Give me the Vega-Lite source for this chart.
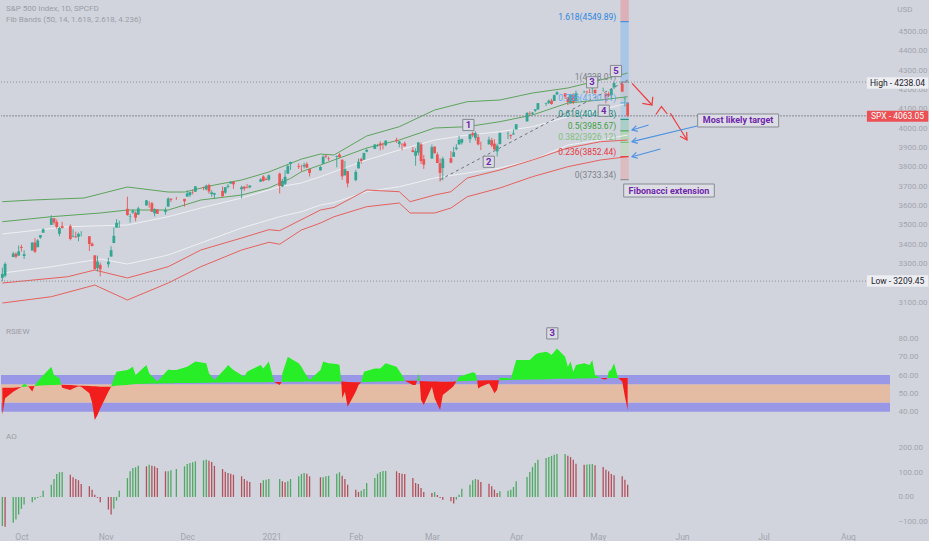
{
"$schema":"https://vega.github.io/schema/vega-lite/v6.json",
"background":"#d1d4dc",
"padding":0,
"spacing":0,
"config":{"view":{"stroke":null},"font":"Roboto","axis":{"labelColor":"#a2a5ae","labelFont":"Roboto","labelFontSize":8,"ticks":false,"domain":false,"grid":false,"labelPadding":8,"labelOverlap":false}},
"datasets":{
"px":[
{"d":"2020-09-24","o":3226.14,"h":3278.7,"l":3209.45,"c":3246.59,"a":-117},
{"d":"2020-09-25","o":3236.66,"h":3306.88,"l":3228.44,"c":3298.46,"a":-120},
{"d":"2020-09-28","o":3333.9,"h":3360.74,"l":3332.91,"c":3351.6,"a":-104},
{"d":"2020-09-29","o":3350.92,"h":3357.92,"l":3327.54,"c":3335.47,"a":-91},
{"d":"2020-09-30","o":3341.21,"h":3393.56,"l":3340.47,"c":3363.0,"a":-71},
{"d":"2020-10-01","o":3385.87,"h":3397.18,"l":3361.39,"c":3380.8,"a":-48},
{"d":"2020-10-02","o":3338.94,"h":3369.1,"l":3323.69,"c":3348.42,"a":-31},
{"d":"2020-10-05","o":3367.27,"h":3409.57,"l":3367.27,"c":3408.6,"a":-21},
{"d":"2020-10-06","o":3408.74,"h":3431.56,"l":3354.54,"c":3360.97,"a":-11},
{"d":"2020-10-07","o":3384.56,"h":3426.26,"l":3384.56,"c":3419.44,"a":-4},
{"d":"2020-10-08","o":3434.28,"h":3447.28,"l":3428.15,"c":3446.83,"a":3},
{"d":"2020-10-09","o":3459.67,"h":3482.34,"l":3458.07,"c":3477.14,"a":25},
{"d":"2020-10-12","o":3500.02,"h":3549.85,"l":3499.61,"c":3534.22,"a":49},
{"d":"2020-10-13","o":3534.01,"h":3534.01,"l":3500.86,"c":3511.93,"a":72},
{"d":"2020-10-14","o":3515.47,"h":3527.94,"l":3480.55,"c":3488.67,"a":92},
{"d":"2020-10-15","o":3453.72,"h":3489.08,"l":3440.89,"c":3483.34,"a":99},
{"d":"2020-10-16","o":3493.5,"h":3515.76,"l":3480.45,"c":3483.81,"a":100},
{"d":"2020-10-19","o":3493.66,"h":3502.42,"l":3419.93,"c":3426.92,"a":89},
{"d":"2020-10-20","o":3439.38,"h":3476.93,"l":3435.65,"c":3443.12,"a":79},
{"d":"2020-10-21","o":3439.91,"h":3464.86,"l":3433.06,"c":3435.56,"a":72},
{"d":"2020-10-22","o":3438.5,"h":3460.53,"l":3415.34,"c":3453.49,"a":67},
{"d":"2020-10-23","o":3464.9,"h":3466.46,"l":3440.45,"c":3465.39,"a":52},
{"d":"2020-10-26","o":3441.42,"h":3441.42,"l":3364.86,"c":3400.97,"a":43},
{"d":"2020-10-27","o":3403.15,"h":3409.51,"l":3388.71,"c":3390.68,"a":29},
{"d":"2020-10-28","o":3342.48,"h":3342.48,"l":3268.89,"c":3271.03,"a":9},
{"d":"2020-10-29","o":3277.17,"h":3341.05,"l":3259.82,"c":3310.11,"a":-4},
{"d":"2020-10-30","o":3293.59,"h":3304.93,"l":3233.94,"c":3269.96,"a":-21},
{"d":"2020-11-02","o":3296.2,"h":3330.14,"l":3279.74,"c":3310.24,"a":-51},
{"d":"2020-11-03","o":3336.25,"h":3389.49,"l":3336.25,"c":3369.16,"a":-71},
{"d":"2020-11-04","o":3406.46,"h":3486.25,"l":3405.17,"c":3443.44,"a":-48},
{"d":"2020-11-05","o":3485.74,"h":3529.05,"l":3485.74,"c":3510.45,"a":-15},
{"d":"2020-11-06","o":3508.34,"h":3521.58,"l":3484.34,"c":3509.44,"a":25},
{"d":"2020-11-09","o":3583.04,"h":3645.99,"l":3547.48,"c":3550.5,"a":76},
{"d":"2020-11-10","o":3543.26,"h":3557.22,"l":3511.91,"c":3545.53,"a":103},
{"d":"2020-11-11","o":3563.22,"h":3581.16,"l":3557.0,"c":3572.66,"a":116},
{"d":"2020-11-12","o":3562.67,"h":3569.02,"l":3518.58,"c":3537.01,"a":119},
{"d":"2020-11-13","o":3552.57,"h":3593.66,"l":3552.57,"c":3585.15,"a":125},
{"d":"2020-11-16","o":3600.16,"h":3628.51,"l":3600.16,"c":3626.91,"a":123},
{"d":"2020-11-17","o":3610.31,"h":3623.11,"l":3588.68,"c":3609.53,"a":129},
{"d":"2020-11-18","o":3612.09,"h":3619.09,"l":3567.33,"c":3567.79,"a":125},
{"d":"2020-11-19","o":3559.41,"h":3585.22,"l":3543.84,"c":3581.87,"a":123},
{"d":"2020-11-20","o":3579.31,"h":3581.23,"l":3556.85,"c":3557.54,"a":116},
{"d":"2020-11-23","o":3566.82,"h":3589.81,"l":3552.77,"c":3577.59,"a":103},
{"d":"2020-11-24","o":3594.52,"h":3642.31,"l":3594.52,"c":3635.41,"a":103},
{"d":"2020-11-25","o":3635.5,"h":3635.5,"l":3617.76,"c":3629.65,"a":107},
{"d":"2020-11-27","o":3638.55,"h":3644.31,"l":3629.33,"c":3638.35,"a":112},
{"d":"2020-11-30","o":3634.18,"h":3634.18,"l":3594.39,"c":3621.63,"a":123},
{"d":"2020-12-01","o":3645.87,"h":3678.45,"l":3645.87,"c":3662.45,"a":132},
{"d":"2020-12-02","o":3653.78,"h":3670.96,"l":3644.84,"c":3669.01,"a":136},
{"d":"2020-12-03","o":3668.28,"h":3682.73,"l":3657.17,"c":3666.72,"a":139},
{"d":"2020-12-04","o":3670.94,"h":3699.2,"l":3670.94,"c":3699.12,"a":143},
{"d":"2020-12-07","o":3694.73,"h":3697.41,"l":3678.88,"c":3691.96,"a":147},
{"d":"2020-12-08","o":3683.05,"h":3708.45,"l":3678.83,"c":3702.25,"a":149},
{"d":"2020-12-09","o":3705.98,"h":3712.39,"l":3660.54,"c":3672.82,"a":145},
{"d":"2020-12-10","o":3659.13,"h":3678.49,"l":3645.18,"c":3668.1,"a":140},
{"d":"2020-12-11","o":3656.08,"h":3665.91,"l":3633.4,"c":3663.46,"a":125},
{"d":"2020-12-14","o":3675.27,"h":3697.61,"l":3645.84,"c":3647.49,"a":112},
{"d":"2020-12-15","o":3666.41,"h":3695.29,"l":3659.62,"c":3694.62,"a":101},
{"d":"2020-12-16","o":3696.25,"h":3711.27,"l":3688.57,"c":3701.17,"a":96},
{"d":"2020-12-17","o":3713.65,"h":3725.12,"l":3710.87,"c":3722.48,"a":93},
{"d":"2020-12-18","o":3722.39,"h":3726.7,"l":3685.84,"c":3709.41,"a":89},
{"d":"2020-12-21","o":3684.28,"h":3702.9,"l":3636.48,"c":3694.92,"a":83},
{"d":"2020-12-22","o":3698.08,"h":3698.26,"l":3676.16,"c":3687.26,"a":72},
{"d":"2020-12-23","o":3693.42,"h":3711.24,"l":3689.28,"c":3690.01,"a":65},
{"d":"2020-12-24","o":3694.03,"h":3703.82,"l":3689.32,"c":3703.06,"a":60},
{"d":"2020-12-28","o":3723.03,"h":3740.51,"l":3723.03,"c":3735.36,"a":56},
{"d":"2020-12-29","o":3750.01,"h":3756.12,"l":3723.31,"c":3727.04,"a":67},
{"d":"2020-12-30","o":3736.19,"h":3744.63,"l":3730.21,"c":3732.04,"a":69},
{"d":"2020-12-31","o":3733.27,"h":3760.2,"l":3726.88,"c":3756.07,"a":72},
{"d":"2021-01-04","o":3764.61,"h":3769.99,"l":3662.71,"c":3700.65,"a":72},
{"d":"2021-01-05","o":3698.02,"h":3737.83,"l":3695.07,"c":3726.86,"a":63},
{"d":"2021-01-06","o":3712.2,"h":3783.04,"l":3705.34,"c":3748.14,"a":59},
{"d":"2021-01-07","o":3764.71,"h":3811.55,"l":3764.71,"c":3803.79,"a":63},
{"d":"2021-01-08","o":3815.05,"h":3826.69,"l":3783.6,"c":3824.68,"a":72},
{"d":"2021-01-11","o":3803.14,"h":3817.86,"l":3789.02,"c":3799.61,"a":83},
{"d":"2021-01-12","o":3801.62,"h":3810.78,"l":3776.51,"c":3801.19,"a":92},
{"d":"2021-01-13","o":3802.23,"h":3820.96,"l":3791.5,"c":3809.84,"a":96},
{"d":"2021-01-14","o":3814.98,"h":3823.6,"l":3792.86,"c":3795.54,"a":93},
{"d":"2021-01-15","o":3788.73,"h":3788.73,"l":3749.62,"c":3768.25,"a":83},
{"d":"2021-01-19","o":3781.88,"h":3804.53,"l":3780.37,"c":3798.91,"a":79},
{"d":"2021-01-20","o":3816.22,"h":3859.75,"l":3816.22,"c":3851.85,"a":79},
{"d":"2021-01-21","o":3857.46,"h":3861.45,"l":3845.05,"c":3853.07,"a":83},
{"d":"2021-01-22","o":3844.24,"h":3852.31,"l":3830.41,"c":3841.47,"a":85},
{"d":"2021-01-25","o":3851.68,"h":3859.23,"l":3797.16,"c":3855.36,"a":93},
{"d":"2021-01-26","o":3862.96,"h":3870.9,"l":3847.78,"c":3849.62,"a":99},
{"d":"2021-01-27","o":3836.83,"h":3836.83,"l":3732.48,"c":3750.77,"a":85},
{"d":"2021-01-28","o":3755.75,"h":3830.17,"l":3755.75,"c":3787.38,"a":72},
{"d":"2021-01-29","o":3778.05,"h":3778.05,"l":3694.12,"c":3714.24,"a":49},
{"d":"2021-02-01","o":3731.17,"h":3784.32,"l":3725.62,"c":3773.86,"a":29},
{"d":"2021-02-02","o":3791.84,"h":3843.09,"l":3791.84,"c":3826.31,"a":20},
{"d":"2021-02-03","o":3840.27,"h":3847.51,"l":3816.68,"c":3830.17,"a":25},
{"d":"2021-02-04","o":3836.66,"h":3872.42,"l":3836.66,"c":3871.74,"a":32},
{"d":"2021-02-05","o":3878.3,"h":3894.56,"l":3874.93,"c":3886.83,"a":56},
{"d":"2021-02-08","o":3892.59,"h":3915.77,"l":3892.59,"c":3915.59,"a":76},
{"d":"2021-02-09","o":3910.49,"h":3918.35,"l":3902.64,"c":3911.23,"a":93},
{"d":"2021-02-10","o":3920.78,"h":3931.5,"l":3884.94,"c":3909.88,"a":100},
{"d":"2021-02-11","o":3916.4,"h":3925.99,"l":3890.39,"c":3916.38,"a":104},
{"d":"2021-02-12","o":3911.65,"h":3937.23,"l":3905.78,"c":3934.83,"a":104},
{"d":"2021-02-16","o":3939.61,"h":3950.43,"l":3923.85,"c":3932.59,"a":103},
{"d":"2021-02-17","o":3918.5,"h":3933.61,"l":3900.43,"c":3931.33,"a":96},
{"d":"2021-02-18","o":3915.86,"h":3921.98,"l":3885.03,"c":3913.97,"a":93},
{"d":"2021-02-19","o":3921.16,"h":3930.41,"l":3903.07,"c":3906.71,"a":92},
{"d":"2021-02-22","o":3885.55,"h":3902.92,"l":3874.71,"c":3876.5,"a":76},
{"d":"2021-02-23","o":3857.07,"h":3895.98,"l":3805.59,"c":3881.37,"a":56},
{"d":"2021-02-24","o":3873.71,"h":3928.65,"l":3859.6,"c":3925.43,"a":52},
{"d":"2021-02-25","o":3915.8,"h":3925.02,"l":3814.04,"c":3829.34,"a":36},
{"d":"2021-02-26","o":3839.66,"h":3861.08,"l":3789.54,"c":3811.15,"a":20},
{"d":"2021-03-01","o":3842.51,"h":3914.5,"l":3842.51,"c":3901.82,"a":16},
{"d":"2021-03-02","o":3903.64,"h":3906.41,"l":3868.57,"c":3870.29,"a":19},
{"d":"2021-03-03","o":3863.99,"h":3874.47,"l":3818.86,"c":3819.72,"a":8},
{"d":"2021-03-04","o":3818.53,"h":3843.67,"l":3723.34,"c":3768.47,"a":-4},
{"d":"2021-03-05","o":3793.58,"h":3851.69,"l":3730.19,"c":3841.94,"a":-11},
{"d":"2021-03-08","o":3844.39,"h":3881.06,"l":3819.25,"c":3821.35,"a":-17},
{"d":"2021-03-09","o":3851.93,"h":3903.76,"l":3851.93,"c":3875.44,"a":-27},
{"d":"2021-03-10","o":3891.99,"h":3917.35,"l":3885.73,"c":3898.81,"a":-11},
{"d":"2021-03-11","o":3915.54,"h":3960.27,"l":3915.54,"c":3939.34,"a":9},
{"d":"2021-03-12","o":3924.52,"h":3944.99,"l":3915.21,"c":3943.34,"a":33},
{"d":"2021-03-15","o":3942.96,"h":3970.08,"l":3923.54,"c":3968.94,"a":49},
{"d":"2021-03-16","o":3973.59,"h":3981.04,"l":3953.44,"c":3962.71,"a":67},
{"d":"2021-03-17","o":3949.57,"h":3983.87,"l":3935.74,"c":3974.12,"a":72},
{"d":"2021-03-18","o":3953.5,"h":3969.62,"l":3910.86,"c":3915.46,"a":69},
{"d":"2021-03-19","o":3913.14,"h":3930.12,"l":3886.75,"c":3913.1,"a":60},
{"d":"2021-03-22","o":3916.48,"h":3955.31,"l":3914.16,"c":3940.59,"a":53},
{"d":"2021-03-23","o":3937.6,"h":3949.13,"l":3901.57,"c":3910.52,"a":43},
{"d":"2021-03-24","o":3919.93,"h":3942.08,"l":3888.59,"c":3889.14,"a":29},
{"d":"2021-03-25","o":3879.34,"h":3919.54,"l":3853.5,"c":3909.52,"a":16},
{"d":"2021-03-26","o":3917.12,"h":3978.19,"l":3917.12,"c":3974.54,"a":23},
{"d":"2021-03-29","o":3969.31,"h":3981.83,"l":3943.25,"c":3971.09,"a":25},
{"d":"2021-03-30","o":3963.34,"h":3968.01,"l":3944.35,"c":3958.55,"a":29},
{"d":"2021-03-31","o":3967.25,"h":3994.41,"l":3966.98,"c":3972.89,"a":40},
{"d":"2021-04-01","o":3992.78,"h":4020.63,"l":3992.78,"c":4019.87,"a":63},
{"d":"2021-04-05","o":4034.44,"h":4083.42,"l":4034.44,"c":4077.91,"a":80},
{"d":"2021-04-06","o":4075.57,"h":4086.23,"l":4068.14,"c":4073.94,"a":100},
{"d":"2021-04-07","o":4074.29,"h":4083.13,"l":4068.31,"c":4079.95,"a":120},
{"d":"2021-04-08","o":4089.95,"h":4098.19,"l":4082.54,"c":4097.17,"a":136},
{"d":"2021-04-09","o":4096.11,"h":4129.48,"l":4095.51,"c":4128.8,"a":149},
{"d":"2021-04-12","o":4124.71,"h":4131.76,"l":4114.82,"c":4127.99,"a":156},
{"d":"2021-04-13","o":4130.1,"h":4148.0,"l":4124.43,"c":4141.59,"a":160},
{"d":"2021-04-14","o":4141.58,"h":4151.69,"l":4120.87,"c":4124.66,"a":165},
{"d":"2021-04-15","o":4139.76,"h":4173.49,"l":4139.76,"c":4170.42,"a":169},
{"d":"2021-04-16","o":4174.14,"h":4191.31,"l":4170.75,"c":4185.47,"a":172},
{"d":"2021-04-19","o":4179.8,"h":4180.81,"l":4150.47,"c":4163.26,"a":172},
{"d":"2021-04-20","o":4159.18,"h":4159.18,"l":4118.38,"c":4134.94,"a":165},
{"d":"2021-04-21","o":4128.42,"h":4175.02,"l":4126.35,"c":4173.42,"a":160},
{"d":"2021-04-22","o":4170.46,"h":4179.57,"l":4123.69,"c":4134.98,"a":149},
{"d":"2021-04-23","o":4138.78,"h":4194.17,"l":4138.78,"c":4180.17,"a":133},
{"d":"2021-04-26","o":4185.03,"h":4194.19,"l":4182.36,"c":4187.62,"a":129},
{"d":"2021-04-27","o":4188.25,"h":4193.35,"l":4176.22,"c":4186.72,"a":130},
{"d":"2021-04-28","o":4185.14,"h":4201.53,"l":4181.78,"c":4183.18,"a":131},
{"d":"2021-04-29","o":4206.14,"h":4218.78,"l":4176.81,"c":4211.47,"a":132},
{"d":"2021-04-30","o":4198.1,"h":4198.1,"l":4174.85,"c":4181.17,"a":127},
{"d":"2021-05-03","o":4191.98,"h":4209.39,"l":4188.03,"c":4192.66,"a":120},
{"d":"2021-05-04","o":4179.04,"h":4179.04,"l":4128.59,"c":4164.66,"a":109},
{"d":"2021-05-05","o":4177.06,"h":4187.72,"l":4160.94,"c":4167.59,"a":103},
{"d":"2021-05-06","o":4169.14,"h":4202.7,"l":4147.33,"c":4201.62,"a":92},
{"d":"2021-05-07","o":4210.34,"h":4238.04,"l":4201.64,"c":4232.6,"a":87},
{"d":"2021-05-10","o":4228.29,"h":4236.39,"l":4188.13,"c":4188.43,"a":83},
{"d":"2021-05-11","o":4150.34,"h":4162.04,"l":4111.53,"c":4152.1,"a":69},
{"d":"2021-05-12","o":4130.55,"h":4134.73,"l":4056.88,"c":4063.04,"a":49}
],
"bands":[
{"k":"u3","d":"2020-09-24","p":3619.6},{"k":"u3","d":"2020-10-05","p":3628.4},{"k":"u3","d":"2020-10-24","p":3638.7},{"k":"u3","d":"2020-11-09","p":3695.6},{"k":"u3","d":"2020-11-24","p":3669.7},{"k":"u3","d":"2020-11-30","p":3669.7},{"k":"u3","d":"2020-12-11","p":3705.9},{"k":"u3","d":"2020-12-21","p":3731.8},{"k":"u3","d":"2020-12-31","p":3773.1},{"k":"u3","d":"2021-01-12","p":3840},{"k":"u3","d":"2021-01-19","p":3866},{"k":"u3","d":"2021-01-24","p":3861},{"k":"u3","d":"2021-02-05","p":3959.2},{"k":"u3","d":"2021-02-17","p":4007.2},{"k":"u3","d":"2021-03-02","p":4093.5},{"k":"u3","d":"2021-03-14","p":4136.4},{"k":"u3","d":"2021-03-26","p":4145.2},{"k":"u3","d":"2021-04-07","p":4181.4},{"k":"u3","d":"2021-04-20","p":4207.2},{"k":"u3","d":"2021-05-02","p":4248.6},{"k":"u3","d":"2021-05-12","p":4284.7},
{"k":"u2","d":"2020-09-24","p":3516.3},{"k":"u2","d":"2020-10-12","p":3542.1},{"k":"u2","d":"2020-10-30","p":3561.2},{"k":"u2","d":"2020-11-09","p":3576.7},{"k":"u2","d":"2020-11-24","p":3576.7},{"k":"u2","d":"2020-12-06","p":3628.4},{"k":"u2","d":"2020-12-21","p":3654.2},{"k":"u2","d":"2020-12-31","p":3690.4},{"k":"u2","d":"2021-01-08","p":3740},{"k":"u2","d":"2021-01-12","p":3774.7},{"k":"u2","d":"2021-01-19","p":3809.3},{"k":"u2","d":"2021-01-24","p":3835.1},{"k":"u2","d":"2021-02-05","p":3897.1},{"k":"u2","d":"2021-02-17","p":3938.5},{"k":"u2","d":"2021-03-02","p":4000.5},{"k":"u2","d":"2021-03-14","p":4007.2},{"k":"u2","d":"2021-03-26","p":4033.1},{"k":"u2","d":"2021-04-07","p":4067.7},{"k":"u2","d":"2021-04-20","p":4129.7},{"k":"u2","d":"2021-05-02","p":4145.2},{"k":"u2","d":"2021-05-12","p":4162.3},
{"k":"u1","d":"2020-09-24","p":3452.7},{"k":"u1","d":"2020-10-18","p":3490.4},{"k":"u1","d":"2020-11-09","p":3499.2},{"k":"u1","d":"2020-11-24","p":3542.1},{"k":"u1","d":"2020-12-06","p":3587.1},{"k":"u1","d":"2020-12-21","p":3638.7},{"k":"u1","d":"2021-01-04","p":3697.1},{"k":"u1","d":"2021-01-12","p":3716.3},{"k":"u1","d":"2021-01-19","p":3748.8},{"k":"u1","d":"2021-01-24","p":3774.7},{"k":"u1","d":"2021-02-05","p":3835.1},{"k":"u1","d":"2021-02-17","p":3886.8},{"k":"u1","d":"2021-03-02","p":3938.5},{"k":"u1","d":"2021-03-14","p":3964.3},{"k":"u1","d":"2021-03-26","p":3981.4},{"k":"u1","d":"2021-04-07","p":4007.2},{"k":"u1","d":"2021-04-20","p":4058.9},{"k":"u1","d":"2021-05-02","p":4093.5},{"k":"u1","d":"2021-05-12","p":4129.7},
{"k":"l1","d":"2020-09-24","p":3251.1},{"k":"l1","d":"2020-10-12","p":3283.7},{"k":"l1","d":"2020-10-30","p":3323.5},{"k":"l1","d":"2020-11-09","p":3297.6},{"k":"l1","d":"2020-11-24","p":3344.2},{"k":"l1","d":"2020-12-06","p":3406.2},{"k":"l1","d":"2020-12-21","p":3483.7},{"k":"l1","d":"2021-01-04","p":3542.1},{"k":"l1","d":"2021-01-12","p":3567.9},{"k":"l1","d":"2021-01-19","p":3602.6},{"k":"l1","d":"2021-01-24","p":3615},{"k":"l1","d":"2021-02-05","p":3671.3},{"k":"l1","d":"2021-02-17","p":3697.1},{"k":"l1","d":"2021-03-02","p":3742.1},{"k":"l1","d":"2021-03-14","p":3767.9},{"k":"l1","d":"2021-03-26","p":3793.8},{"k":"l1","d":"2021-04-07","p":3835.1},{"k":"l1","d":"2021-04-20","p":3912.6},{"k":"l1","d":"2021-05-02","p":3938.5},{"k":"l1","d":"2021-05-12","p":3964.3},
{"k":"l2","d":"2020-09-24","p":3199.5},{"k":"l2","d":"2020-10-18","p":3232},{"k":"l2","d":"2020-10-28","p":3266.6},{"k":"l2","d":"2020-11-09","p":3225.3},{"k":"l2","d":"2020-11-24","p":3283.7},{"k":"l2","d":"2020-12-06","p":3370},{"k":"l2","d":"2020-12-21","p":3432},{"k":"l2","d":"2020-12-31","p":3475},{"k":"l2","d":"2021-01-04","p":3470},{"k":"l2","d":"2021-01-19","p":3576.7},{"k":"l2","d":"2021-01-24","p":3590},{"k":"l2","d":"2021-02-05","p":3680.1},{"k":"l2","d":"2021-02-17","p":3671.3},{"k":"l2","d":"2021-02-21","p":3619.6},{"k":"l2","d":"2021-03-02","p":3654.2},{"k":"l2","d":"2021-03-08","p":3671.3},{"k":"l2","d":"2021-03-14","p":3742.1},{"k":"l2","d":"2021-03-26","p":3783.4},{"k":"l2","d":"2021-04-07","p":3835.1},{"k":"l2","d":"2021-04-20","p":3897.1},{"k":"l2","d":"2021-05-02","p":3929.7},{"k":"l2","d":"2021-05-12","p":3938.5},
{"k":"l3","d":"2020-09-24","p":3096.1},{"k":"l3","d":"2020-10-12","p":3128.7},{"k":"l3","d":"2020-10-28","p":3189.1},{"k":"l3","d":"2020-11-09","p":3111.6},{"k":"l3","d":"2020-11-24","p":3199.5},{"k":"l3","d":"2020-12-06","p":3283.7},{"k":"l3","d":"2020-12-21","p":3370},{"k":"l3","d":"2020-12-31","p":3410},{"k":"l3","d":"2021-01-04","p":3400},{"k":"l3","d":"2021-01-12","p":3473.4},{"k":"l3","d":"2021-01-19","p":3509.5},{"k":"l3","d":"2021-01-24","p":3542.1},{"k":"l3","d":"2021-02-05","p":3593.8},{"k":"l3","d":"2021-02-17","p":3612.9},{"k":"l3","d":"2021-02-21","p":3561.2},{"k":"l3","d":"2021-03-02","p":3561.2},{"k":"l3","d":"2021-03-08","p":3587.1},{"k":"l3","d":"2021-03-14","p":3645.5},{"k":"l3","d":"2021-03-26","p":3690.4},{"k":"l3","d":"2021-04-07","p":3748.8},{"k":"l3","d":"2021-04-20","p":3800.5},{"k":"l3","d":"2021-05-02","p":3835.1},{"k":"l3","d":"2021-05-12","p":3852.2}
],
"fibz":[
{"z":"z8","lo":4549.89,"hi":4662},{"z":"z7","lo":4238.01,"hi":4549.89},{"z":"z6","lo":4130.01,"hi":4238.01},{"z":"z5","lo":4045.23,"hi":4130.01},{"z":"z4","lo":3985.67,"hi":4045.23},{"z":"z3","lo":3926.12,"hi":3985.67},{"z":"z2","lo":3852.44,"hi":3926.12},{"z":"z1","lo":3733.34,"hi":3852.44}
],
"fibl":[
{"lv":"1.618","p":4549.89,"t":"1.618(4549.89)"},
{"lv":"1","p":4238.01,"t":"1(4238.01)"},
{"lv":"0.786","p":4130.01,"t":"0.786(4130.01)"},
{"lv":"0.618","p":4045.23,"t":"0.618(4045.23)"},
{"lv":"0.5","p":3985.67,"t":"0.5(3985.67)"},
{"lv":"0.382","p":3926.12,"t":"0.382(3926.12)"},
{"lv":"0.236","p":3852.44,"t":"0.236(3852.44)"},
{"lv":"0","p":3733.34,"t":"0(3733.34)"}
],
"arrows":[
{"id":"r1","g":"red","o":1,"d":"2021-05-13T15:00:00Z","p":4231.5},{"id":"r1","g":"red","o":2,"d":"2021-05-20T23:00:00Z","p":4119.4},
{"id":"r1h","g":"red","o":1,"d":"2021-05-17T10:00:00Z","p":4128.2},{"id":"r1h","g":"red","o":2,"d":"2021-05-20T23:00:00Z","p":4119.4},{"id":"r1h","g":"red","o":3,"d":"2021-05-21T06:00:00Z","p":4162.3},
{"id":"r2","g":"red","o":1,"d":"2021-05-22T09:00:00Z","p":4070.3},{"id":"r2","g":"red","o":2,"d":"2021-05-24T10:00:00Z","p":4111.6},{"id":"r2","g":"red","o":3,"d":"2021-05-26T14:00:00Z","p":4072.9},
{"id":"r3","g":"red","o":1,"d":"2021-05-27T17:00:00Z","p":4076.5},{"id":"r3","g":"red","o":2,"d":"2021-06-02T20:00:00Z","p":3938.5},
{"id":"r3h","g":"red","o":1,"d":"2021-05-31T06:00:00Z","p":3958.1},{"id":"r3h","g":"red","o":2,"d":"2021-06-02T20:00:00Z","p":3938.5},{"id":"r3h","g":"red","o":3,"d":"2021-06-02T17:00:00Z","p":3979.8},
{"id":"b1","g":"blue","o":1,"d":"2021-05-19T17:00:00Z","p":4016},{"id":"b1","g":"blue","o":2,"d":"2021-05-13T15:00:00Z","p":3990.2},
{"id":"b1h","g":"blue","o":1,"d":"2021-05-15T04:00:00Z","p":4012.9},{"id":"b1h","g":"blue","o":2,"d":"2021-05-13T15:00:00Z","p":3990.2},{"id":"b1h","g":"blue","o":3,"d":"2021-05-15T18:00:00Z","p":3982.9},
{"id":"b2","g":"blue","o":1,"d":"2021-06-06T13:00:00Z","p":4010.8},{"id":"b2","g":"blue","o":2,"d":"2021-05-13T15:00:00Z","p":3929.7},
{"id":"b2h","g":"blue","o":1,"d":"2021-05-15T04:00:00Z","p":3950.9},{"id":"b2h","g":"blue","o":2,"d":"2021-05-13T15:00:00Z","p":3929.7},{"id":"b2h","g":"blue","o":3,"d":"2021-05-15T18:00:00Z","p":3920.9},
{"id":"b3","g":"blue","o":1,"d":"2021-05-24T01:00:00Z","p":3892},{"id":"b3","g":"blue","o":2,"d":"2021-05-13T15:00:00Z","p":3852.2},
{"id":"b3h","g":"blue","o":1,"d":"2021-05-15T04:00:00Z","p":3874.4},{"id":"b3h","g":"blue","o":2,"d":"2021-05-13T15:00:00Z","p":3852.2},{"id":"b3h","g":"blue","o":3,"d":"2021-05-15T18:00:00Z","p":3844.4}
],
"waves":[
{"w":"1","d":"2021-03-14T10:00:00Z","p":4016},
{"w":"2","d":"2021-03-21T22:00:00Z","p":3826},
{"w":"3","d":"2021-04-28T22:00:00Z","p":4236.7},
{"w":"4","d":"2021-05-03T05:00:00Z","p":4090},
{"w":"5","d":"2021-05-07T17:00:00Z","p":4295}
],
"notes":[
{"t":"Most likely target","d":"2021-06-06T18:00:00Z","d2":"2021-07-06T13:00:00Z","p":4005.7,"p2":4072.9,"dc":"2021-06-21T15:00:00Z","pc":4039.3},
{"t":"Fibonacci extension","d":"2021-05-10T13:00:00Z","d2":"2021-06-12T21:00:00Z","p":3643.9,"p2":3711.1,"dc":"2021-05-27T05:00:00Z","pc":3677.5}
],
"tags":[
{"t":"High - 4238.04","k":"hl","p":4203.6,"p2":4262.5,"pc":4233},
{"t":"SPX - 4063.05","k":"spx","p":4033.1,"p2":4089.9,"pc":4061.5},
{"t":"Low - 3209.45","k":"hl","p":3180.4,"p2":3239.3,"pc":3209.9}
],
"titles":[
{"t":"S&P 500 Index, 1D, SPCFD","p":4615},
{"t":"Fib Bands (50, 14, 1.618, 2.618, 4.236)","p":4558}
],
"rsib":[
{"t":"blue","lo":40,"hi":45},{"t":"orange","lo":45,"hi":55},{"t":"blue","lo":55,"hi":60}
],
"rsi":[
{"d":"2020-09-24","r":38.2,"b":53},{"d":"2020-09-25","r":47.3,"b":53},{"d":"2020-09-28","r":50.9,"b":53.1},{"d":"2020-09-30","r":52.7,"b":53.3},
{"d":"2020-10-01","g":53.5,"r":53.5,"b":53.5},{"d":"2020-10-02","g":55.5,"b":53.6},{"d":"2020-10-03T12:00:00Z","g":53.8,"r":53.8,"b":53.8},{"d":"2020-10-05","r":51,"b":53.8},{"d":"2020-10-05T20:00:00Z","g":54,"r":54,"b":54},{"d":"2020-10-06","g":54.5,"b":54},
{"d":"2020-10-08","g":58.2,"b":54.3},{"d":"2020-10-12","g":64.5,"b":54.5},{"d":"2020-10-13","g":60,"b":54.6},{"d":"2020-10-15","g":58.2,"b":54.7},{"d":"2020-10-15T16:00:00Z","g":54.7,"r":54.7,"b":54.7},
{"d":"2020-10-16","r":53,"b":54.7},{"d":"2020-10-19","r":51.8,"b":54.5},{"d":"2020-10-20","r":52.7,"b":54.4},{"d":"2020-10-22","r":53.8,"b":54.2},{"d":"2020-10-23","r":53.6,"b":54.1},{"d":"2020-10-26","r":50,"b":54},{"d":"2020-10-27","r":45,"b":53.9},{"d":"2020-10-28","r":35.5,"b":53.8},{"d":"2020-10-29","r":38.2,"b":53.7},{"d":"2020-10-30","r":41.8,"b":53.6},{"d":"2020-11-02","r":50.9,"b":53.6},
{"d":"2020-11-03","g":53.6,"r":53.6,"b":53.6},{"d":"2020-11-04","g":58.2,"b":54},{"d":"2020-11-05","g":61.8,"b":54.3},{"d":"2020-11-09","g":62.7,"b":54.6},{"d":"2020-11-10","g":63.6,"b":54.8},{"d":"2020-11-11","g":64.5,"b":55},{"d":"2020-11-12","g":60,"b":55.1},{"d":"2020-11-16","g":65.5,"b":55.2},{"d":"2020-11-17","g":60.9,"b":55.3},{"d":"2020-11-20","g":56.4,"b":55.4},{"d":"2020-11-24","g":63,"b":55.5},{"d":"2020-11-25","g":62.7,"b":55.5},{"d":"2020-11-27","g":62.7,"b":55.6},
{"d":"2020-12-01","g":64.5,"b":55.6},{"d":"2020-12-02","g":65.5,"b":55.7},{"d":"2020-12-04","g":67.3,"b":55.7},{"d":"2020-12-08","g":66.4,"b":55.8},{"d":"2020-12-09","g":60.9,"b":55.8},{"d":"2020-12-11","g":57.3,"b":55.9},{"d":"2020-12-15","g":63.6,"b":55.9},{"d":"2020-12-16","g":65.5,"b":56},{"d":"2020-12-18","g":62.7,"b":56},{"d":"2020-12-22","g":59.1,"b":56},{"d":"2020-12-23","g":61.8,"b":56.1},{"d":"2020-12-28","g":65.5,"b":56.1},{"d":"2020-12-29","g":63.6,"b":56.1},{"d":"2020-12-31","g":67.3,"b":56.2},
{"d":"2021-01-02","g":56.2,"r":56.2,"b":56.2},{"d":"2021-01-04","r":54.5,"b":56.2},{"d":"2021-01-04T18:00:00Z","g":56.2,"r":56.2,"b":56.2},{"d":"2021-01-05","g":60.9,"b":56.2},{"d":"2021-01-07","g":70,"b":56.3},{"d":"2021-01-08","g":69,"b":56.3},{"d":"2021-01-11","g":66.4,"b":56.3},{"d":"2021-01-12","g":64.5,"b":56.3},{"d":"2021-01-13","g":61.8,"b":56.4},{"d":"2021-01-15","g":57.3,"b":56.4},{"d":"2021-01-19","g":62.7,"b":56.4},{"d":"2021-01-20","g":67.3,"b":56.4},{"d":"2021-01-22","g":66.4,"b":56.4},{"d":"2021-01-25","g":66,"b":56.4},{"d":"2021-01-26","g":65.5,"b":56.4},{"d":"2021-01-26T16:00:00Z","g":56.4,"r":56.4,"b":56.4},
{"d":"2021-01-27","r":47.3,"b":56.4},{"d":"2021-01-28","r":50.9,"b":56.3},{"d":"2021-01-29","r":42.7,"b":56.2},{"d":"2021-02-01","r":50.9,"b":56.1},{"d":"2021-02-02","r":54.5,"b":56.1},{"d":"2021-02-03","g":56.1,"r":56.1,"b":56.1},
{"d":"2021-02-04","g":61.8,"b":56.2},{"d":"2021-02-08","g":63.6,"b":56.3},{"d":"2021-02-10","g":63.6,"b":56.4},{"d":"2021-02-12","g":66.4,"b":56.5},{"d":"2021-02-16","g":64.5,"b":56.6},{"d":"2021-02-18","g":60,"b":56.7},{"d":"2021-02-19","g":56.8,"r":56.8,"b":56.8},
{"d":"2021-02-22","r":54.5,"b":56.8},{"d":"2021-02-23","r":54.5,"b":56.8},{"d":"2021-02-23T14:00:00Z","g":56.8,"r":56.8,"b":56.8},{"d":"2021-02-24","g":60.9,"b":56.8},{"d":"2021-02-24T12:00:00Z","g":56.8,"r":56.8,"b":56.8},
{"d":"2021-02-25","r":46.4,"b":56.7},{"d":"2021-02-26","r":43.6,"b":56.6},{"d":"2021-03-01","r":53.6,"b":56.5},{"d":"2021-03-02","r":47.3,"b":56.5},{"d":"2021-03-03","r":44,"b":56.4},{"d":"2021-03-04","r":40.9,"b":56.3},{"d":"2021-03-05","r":49.1,"b":56.3},{"d":"2021-03-08","r":52.7,"b":56.3},{"d":"2021-03-09","r":54,"b":56.4},{"d":"2021-03-10","g":56.5,"r":56.5,"b":56.5},
{"d":"2021-03-11","g":59.1,"b":56.6},{"d":"2021-03-15","g":60.9,"b":56.8},{"d":"2021-03-16","g":61.5,"b":56.9},{"d":"2021-03-17","g":60.9,"b":57},{"d":"2021-03-17T16:00:00Z","g":57,"r":57,"b":57},
{"d":"2021-03-18","r":52.7,"b":57},{"d":"2021-03-19","r":53.6,"b":57},{"d":"2021-03-22","r":55.5,"b":57.1},{"d":"2021-03-23","r":53,"b":57.1},{"d":"2021-03-24","r":50,"b":57.1},{"d":"2021-03-25","r":52,"b":57.2},{"d":"2021-03-25T16:00:00Z","g":57.2,"r":57.2,"b":57.2},
{"d":"2021-03-26","g":58.5,"b":57.2},{"d":"2021-03-29","g":58.4,"b":57.3},{"d":"2021-03-30","g":57.8,"b":57.3},{"d":"2021-04-01","g":68.2,"b":57.4},{"d":"2021-04-06","g":68.2,"b":57.5},{"d":"2021-04-08","g":71,"b":57.6},{"d":"2021-04-09","g":71.8,"b":57.6},{"d":"2021-04-12","g":72.7,"b":57.7},{"d":"2021-04-13","g":72,"b":57.7},{"d":"2021-04-14","g":70.9,"b":57.8},{"d":"2021-04-16","g":74.5,"b":57.9},{"d":"2021-04-19","g":70,"b":57.9},{"d":"2021-04-20","g":64.5,"b":58},{"d":"2021-04-21","g":67.3,"b":58},{"d":"2021-04-22","g":61.8,"b":58},{"d":"2021-04-23","g":65.5,"b":58.1},{"d":"2021-04-26","g":66.4,"b":58.1},{"d":"2021-04-28","g":65.5,"b":58.2},{"d":"2021-04-29","g":68.2,"b":58.2},{"d":"2021-04-30","g":60,"b":58.3},
{"d":"2021-05-02","g":58.3,"r":58.3,"b":58.3},{"d":"2021-05-03","r":57.7,"b":58.3},{"d":"2021-05-04","r":57.6,"b":58.3},{"d":"2021-05-04T14:00:00Z","g":58.3,"r":58.3,"b":58.3},
{"d":"2021-05-05","g":61.8,"b":58.4},{"d":"2021-05-06","g":63,"b":58.4},{"d":"2021-05-07","g":66.4,"b":58.4},{"d":"2021-05-08T12:00:00Z","g":58.4,"r":58.4,"b":58.4},
{"d":"2021-05-10","r":56.4,"b":58.4},{"d":"2021-05-11","r":48.2,"b":58.4},{"d":"2021-05-12","r":40.9,"b":58.4}
]
},
"vconcat":[
{
"width":889,"height":322,
"resolve":{"scale":{"color":"independent"}},
"layer":[
{"data":{"name":"fibz"},"mark":{"type":"rect","clip":true},
 "encoding":{"x":{"datum":{"year":2021,"month":5,"date":9,"hours":8,"utc":true},"type":"temporal","axis":null},"x2":{"datum":{"year":2021,"month":5,"date":12,"hours":10,"utc":true}},
 "y":{"field":"lo","type":"quantitative","title":null},"y2":{"field":"hi"},
 "color":{"field":"z","type":"nominal","legend":null,"scale":{"domain":["z1","z2","z3","z4","z5","z6","z7","z8"],"range":["#dcbcc1","#c4d6c4","#b6d4b8","#aacfc9","#b6cde2","#c2cad8","#a9c6e6","#dcb0b6"]}}}},
{"data":{"name":"bands"},"mark":{"type":"line","strokeWidth":1,"clip":true},
 "encoding":{"x":{"field":"d","type":"temporal","axis":null},"y":{"field":"p","type":"quantitative","title":null},
 "color":{"field":"k","type":"nominal","legend":null,"scale":{"domain":["u3","u2","u1","l1","l2","l3"],"range":["#5ea35e","#5ea35e","#eef0f3","#eef0f3","#e6615d","#e6615d"]}}}},
{"data":{"values":[{"p":4238.04},{"p":3209.45}]},"mark":{"type":"rule","color":"#8c8f98","strokeWidth":1,"strokeDash":[1,2]},
 "encoding":{"y":{"field":"p","type":"quantitative","title":null}}},
{"data":{"values":[{"p":4063.05}]},"mark":{"type":"rule","color":"#868992","strokeWidth":1,"strokeDash":[2,1]},
 "encoding":{"y":{"field":"p","type":"quantitative","title":null}}},
{"data":{"values":[{"d":"2021-03-04","p":3733.34},{"d":"2021-05-12","p":4248}]},"mark":{"type":"line","color":"#6e7280","strokeWidth":1,"strokeDash":[3,3]},
 "encoding":{"x":{"field":"d","type":"temporal","axis":null},"y":{"field":"p","type":"quantitative","title":null}}},
{"data":{"name":"px"},"mark":{"type":"rule","strokeWidth":0.9,"clip":true},
 "encoding":{"x":{"field":"d","type":"temporal","scale":{"type":"utc","domain":[{"year":2020,"month":9,"date":23,"hours":12,"utc":true},{"year":2021,"month":8,"date":16,"hours":12,"utc":true}]},"axis":null},
 "y":{"field":"l","type":"quantitative","scale":{"domain":[2998,4662],"nice":false,"zero":false},"axis":{"orient":"right","values":[3100,3200,3300,3400,3500,3600,3700,3800,3900,4000,4100,4200,4300,4400,4500],"tickCount":15,"format":".2f","title":null,"labelOverlap":false}},
 "y2":{"field":"h"},
 "color":{"condition":{"test":"datum.c >= datum.o","value":"#33a693"},"value":"#ea5656"}}},
{"data":{"name":"px"},"mark":{"type":"rule","strokeWidth":2.8,"clip":true},
 "encoding":{"x":{"field":"d","type":"temporal","axis":null},"y":{"field":"o","type":"quantitative","title":null},"y2":{"field":"c"},
 "color":{"condition":{"test":"datum.c >= datum.o","value":"#33a693"},"value":"#ea5656"}}},
{"data":{"name":"fibl"},"mark":{"type":"rule","strokeWidth":1},
 "encoding":{"x":{"datum":{"year":2021,"month":5,"date":9,"hours":8,"utc":true},"type":"temporal","axis":null},"x2":{"datum":{"year":2021,"month":5,"date":12,"hours":10,"utc":true}},
 "y":{"field":"p","type":"quantitative","title":null},
 "color":{"field":"lv","type":"nominal","legend":null,"scale":{"domain":["1.618","1","0.786","0.618","0.5","0.382","0.236","0"],"range":["#2f86e0","#80838c","#5aa9ec","#11897a","#43a047","#7fbf80","#e8353f","#80838c"]}}}},
{"data":{"name":"fibl"},"mark":{"type":"text","align":"right","baseline":"bottom","fontSize":8.5},
 "encoding":{"x":{"datum":{"year":2021,"month":5,"date":7,"hours":20,"utc":true},"type":"temporal","axis":null},
 "y":{"field":"p","type":"quantitative","title":null},"text":{"field":"t"},
 "color":{"field":"lv","type":"nominal","legend":null,"scale":{"domain":["1.618","1","0.786","0.618","0.5","0.382","0.236","0"],"range":["#2f86e0","#80838c","#5aa9ec","#11897a","#43a047","#7fbf80","#e8353f","#80838c"]}}}},
{"data":{"name":"arrows"},"mark":{"type":"line","strokeWidth":1.2},
 "encoding":{"x":{"field":"d","type":"temporal","axis":null},"y":{"field":"p","type":"quantitative","title":null},"detail":{"field":"id"},"order":{"field":"o"},
 "color":{"field":"g","type":"nominal","legend":null,"scale":{"domain":["red","blue"],"range":["#ee3a3e","#4d92e3"]}}}},
{"data":{"name":"waves"},"mark":{"type":"point","shape":"square","size":125,"filled":true,"fill":"#d9dbe2","stroke":"#858892","strokeWidth":1,"opacity":1},
 "encoding":{"x":{"field":"d","type":"temporal","axis":null},"y":{"field":"p","type":"quantitative","title":null}}},
{"data":{"name":"waves"},"mark":{"type":"text","fontWeight":"bold","fontSize":9.5,"color":"#7026ad","baseline":"middle"},
 "encoding":{"x":{"field":"d","type":"temporal","axis":null},"y":{"field":"p","type":"quantitative","title":null},"text":{"field":"w"}}},
{"data":{"name":"notes"},"mark":{"type":"rect","fill":"#dcdee4","stroke":"#878a93","strokeWidth":1},
 "encoding":{"x":{"field":"d","type":"temporal","axis":null},"x2":{"field":"d2"},"y":{"field":"p","type":"quantitative","title":null},"y2":{"field":"p2"}}},
{"data":{"name":"notes"},"mark":{"type":"text","fontWeight":"bold","fontSize":9,"color":"#7026ad","baseline":"middle"},
 "encoding":{"x":{"field":"dc","type":"temporal","axis":null},"y":{"field":"pc","type":"quantitative","title":null},"text":{"field":"t"}}},
{"data":{"name":"tags"},"mark":{"type":"rect"},
 "encoding":{"x":{"datum":{"year":2021,"month":8,"date":8,"utc":true},"type":"temporal","axis":null},"x2":{"datum":{"year":2021,"month":8,"date":30,"hours":14,"utc":true}},
 "y":{"field":"p","type":"quantitative","title":null},"y2":{"field":"p2"},
 "color":{"field":"k","type":"nominal","legend":null,"scale":{"domain":["hl","spx"],"range":["#eceef2","#eb5054"]}}}},
{"data":{"name":"tags"},"mark":{"type":"text","fontSize":8.5,"baseline":"middle"},
 "encoding":{"x":{"datum":{"year":2021,"month":8,"date":19,"hours":7,"utc":true},"type":"temporal","axis":null},
 "y":{"field":"pc","type":"quantitative","title":null},"text":{"field":"t"},
 "color":{"field":"k","type":"nominal","legend":null,"scale":{"domain":["hl","spx"],"range":["#1e222d","#ffffff"]}}}},
{"data":{"name":"titles"},"mark":{"type":"text","align":"left","baseline":"middle","fontSize":8,"color":"#9a9da6"},
 "encoding":{"x":{"datum":{"year":2020,"month":9,"date":25,"hours":8,"utc":true},"type":"temporal","axis":null},
 "y":{"field":"p","type":"quantitative","title":null},"text":{"field":"t"}}},
{"data":{"values":[{"t":"USD","p":4612}]},"mark":{"type":"text","align":"center","baseline":"middle","fontSize":8,"color":"#a2a5ae"},
 "encoding":{"x":{"datum":{"year":2021,"month":8,"date":22,"utc":true},"type":"temporal","axis":null},
 "y":{"field":"p","type":"quantitative","title":null},"text":{"field":"t"}}}
]
},
{
"width":889,"height":106,
"resolve":{"scale":{"color":"independent"}},
"layer":[
{"data":{"name":"rsib"},"mark":"rect",
 "encoding":{"y":{"field":"lo","type":"quantitative","scale":{"domain":[31.1,88.9],"nice":false,"zero":false},"axis":{"orient":"right","values":[40,50,60,70,80],"tickCount":5,"format":".2f","title":null,"labelOverlap":false}},"y2":{"field":"hi"},
 "color":{"field":"t","type":"nominal","legend":null,"scale":{"domain":["blue","orange"],"range":["#9898e6","#e3bca3"]}}}},
{"data":{"name":"rsi"},"mark":{"type":"area","color":"#27ee27"},
 "encoding":{"x":{"field":"d","type":"temporal","scale":{"type":"utc","domain":[{"year":2020,"month":9,"date":23,"hours":12,"utc":true},{"year":2021,"month":8,"date":16,"hours":12,"utc":true}]},"axis":null},
 "y":{"field":"g","type":"quantitative","title":null},"y2":{"field":"b"}}},
{"data":{"name":"rsi"},"mark":{"type":"area","color":"#f21d1d"},
 "encoding":{"x":{"field":"d","type":"temporal","axis":null},"y":{"field":"r","type":"quantitative","title":null},"y2":{"field":"b"}}},
{"data":{"values":[{"w":"3","d":"2021-04-14T07:00:00Z","v":82.7}]},"mark":{"type":"point","shape":"square","size":125,"filled":true,"fill":"#d9dbe2","stroke":"#858892","strokeWidth":1,"opacity":1},
 "encoding":{"x":{"field":"d","type":"temporal","axis":null},"y":{"field":"v","type":"quantitative","title":null}}},
{"data":{"values":[{"w":"3","d":"2021-04-14T07:00:00Z","v":82.7}]},"mark":{"type":"text","fontWeight":"bold","fontSize":9.5,"color":"#7026ad","baseline":"middle"},
 "encoding":{"x":{"field":"d","type":"temporal","axis":null},"y":{"field":"v","type":"quantitative","title":null},"text":{"field":"w"}}},
{"data":{"values":[{"t":"RSIEW","v":83.4}]},"mark":{"type":"text","align":"left","baseline":"middle","fontSize":8,"color":"#9a9da6"},
 "encoding":{"x":{"datum":{"year":2020,"month":9,"date":25,"hours":8,"utc":true},"type":"temporal","axis":null},
 "y":{"field":"v","type":"quantitative","title":null},"text":{"field":"t"}}}
]
},
{
"width":889,"height":100,
"layer":[
{"data":{"name":"px"},
 "transform":[{"window":[{"op":"lag","field":"a","as":"pa"}],"sort":[{"field":"d","order":"ascending"}]}],
 "mark":{"type":"rule","strokeWidth":1.3},
 "encoding":{"x":{"field":"d","type":"temporal","scale":{"type":"utc","domain":[{"year":2020,"month":9,"date":23,"hours":12,"utc":true},{"year":2021,"month":8,"date":16,"hours":12,"utc":true}]},
  "axis":{"orient":"bottom","tickCount":{"interval":"month","step":1},"labelExpr":"utcmonth(datum.value) === 0 ? utcFormat(datum.value, '%Y') : utcFormat(datum.value, '%b')","labelPadding":4,"labelFontSize":8.5,"title":null}},
 "y":{"field":"a","type":"quantitative","scale":{"domain":[-125,277],"nice":false,"zero":false},"axis":{"orient":"right","values":[-100,0,100,200],"tickCount":4,"format":".2f","title":null,"labelOverlap":false}},
 "y2":{"datum":0},
 "color":{"condition":{"test":"datum.pa == null || datum.a >= datum.pa","value":"#4fa863"},"value":"#b2505c"}}},
{"data":{"values":[{"t":"AO","a":241}]},"mark":{"type":"text","align":"left","baseline":"middle","fontSize":8,"color":"#9a9da6"},
 "encoding":{"x":{"datum":{"year":2020,"month":9,"date":25,"hours":8,"utc":true},"type":"temporal","title":null},
 "y":{"field":"a","type":"quantitative","title":null},"text":{"field":"t"}}}
]
}
]
}
